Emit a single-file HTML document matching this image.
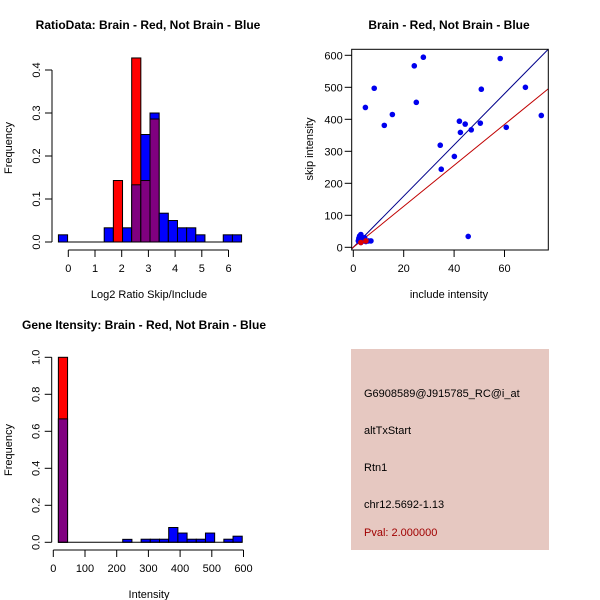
<!DOCTYPE html>
<html><head><meta charset="utf-8"><style>
html,body{margin:0;padding:0;background:#fff}
svg{display:block;font-family:"Liberation Sans",sans-serif}
text{fill:#000}
</style></head><body>
<svg id="c" width="600" height="600" xmlns="http://www.w3.org/2000/svg">
<rect width="600" height="600" fill="#fff"/>
<g id="p1"></g>
<g id="p2"></g>
<g id="p3"></g>
<g>
<rect x="351" y="349" width="198" height="201" fill="#e6c8c1"/>
<text x="364" y="397" font-size="11">G6908589@J915785_RC@i_at</text>
<text x="364" y="434" font-size="11">altTxStart</text>
<text x="364" y="471" font-size="11">Rtn1</text>
<text x="364" y="508" font-size="11">chr12.5692-1.13</text>
<text x="364" y="536" font-size="11" fill="#a00000" style="fill:#a00000">Pval: 2.000000</text>
</g>
</svg>
<script>
// Panel 1 data
const ratioBinStart = -0.37;
const ratioBinWidth = 0.343;
const ratioBlue = [0.0167,0,0,0,0,0.033,0,0.033,0.133,0.25,0.30,0.067,0.05,0.033,0.033,0.0167,0,0,0.0167,0.0167];
const ratioRed  = [0,0,0,0,0,0,0.143,0,0.428,0.143,0.286,0,0,0,0,0,0,0,0,0];
const ratioXTicks = [0,1,2,3,4,5,6];
const ratioYTicks = [0.0,0.1,0.2,0.3,0.4];
// Panel 2 data
const includeVals = [27.8,24.2,58.3,8.3,50.8,68.3,25,4.8,15.5,12.3,74.6,42.1,44.4,50.4,46.8,42.5,60.7,34.5,40.1,34.9,45.6,2,2.5,3,3.5,4,5,6,7,3,2.5,4.5,2.2];
const skipVals    = [594,567,590,497,494,500,453,437,415,381,412,394,385,388,367,359,375,319,284,244,34,20,30,40,25,20,18,20,20,15,35,30,28];
const redIncludeVals = [3,5];
const redSkipVals = [15,20];
const blueSlope = 8.0;
const redSlope = 6.4;
const scatXTicks = [0,20,40,60];
const scatYTicks = [0,100,200,300,400,500,600];
// Panel 3 data
const intBinStart = 16;
const intBinWidth = 29;
const intBlue = [0.667,0,0,0,0,0,0,0.016,0,0.0167,0.0167,0.0167,0.08,0.05,0.0167,0.0167,0.05,0,0.0167,0.033];
const intRed  = [1.0,0,0,0,0,0,0,0,0,0,0,0,0,0,0,0,0,0,0,0];
const intXTicks = [0,100,200,300,400,500,600];
const intYTicks = [0.0,0.2,0.4,0.6,0.8,1.0];

const NS="http://www.w3.org/2000/svg";
function mk(parent,tag,attrs){const e=document.createElementNS(NS,tag);for(const k in attrs)e.setAttribute(k,attrs[k]);parent.appendChild(e);return e;}
function txt(parent,x,y,s,size,anchor,rot,bold){const t=mk(parent,'text',{x:x,y:y,'font-size':size,'text-anchor':anchor||'middle'});if(rot)t.setAttribute('transform','rotate(-90 '+x+' '+y+')');if(bold)t.setAttribute('font-weight','bold');t.textContent=s;return t;}

function hist(g,xs,ys,start,width,blue,red,xt,yt,xAxisY,yAxisX,yFmt){
  for(let i=0;i<blue.length;i++){
    const x0=xs(start+i*width),x1=xs(start+(i+1)*width);
    const b=blue[i],r=red[i];
    const hi=Math.max(b,r),lo=Math.min(b,r);
    if(hi<=0)continue;
    const col=b>=r?'#0000ff':'#ff0000';
    const bar=mk(g,'rect',{x:x0,y:ys(hi),width:x1-x0,height:ys(0)-ys(hi),fill:col,stroke:'#000','stroke-width':1});
    
    
    if(lo>0){
      const p=mk(g,'rect',{x:x0,y:ys(lo),width:x1-x0,height:ys(0)-ys(lo),fill:'#800080',stroke:'#000','stroke-width':1});
      
      
    }
  }
  const x0=xs(start),x1=xs(start+blue.length*width);
  mk(g,'line',{x1:x0,x2:x1,y1:ys(0),y2:ys(0),stroke:'#000'});
  // x axis
  mk(g,'line',{x1:xs(xt[0]),x2:xs(xt[xt.length-1]),y1:xAxisY,y2:xAxisY,stroke:'#000'});
  xt.forEach(v=>{mk(g,'line',{x1:xs(v),x2:xs(v),y1:xAxisY,y2:xAxisY+7,stroke:'#000'});txt(g,xs(v),xAxisY+22,String(v),11);});
  mk(g,'line',{x1:yAxisX,x2:yAxisX,y1:ys(yt[0]),y2:ys(yt[yt.length-1]),stroke:'#000'});
  yt.forEach(v=>{mk(g,'line',{x1:yAxisX-7,x2:yAxisX,y1:ys(v),y2:ys(v),stroke:'#000'});txt(g,yAxisX-12,ys(v),v.toFixed(1),11,'middle',true);});
}

// Panel 1
(function(){
  const g=document.getElementById('p1');
  const xs=v=>68.3+v*26.7, ys=v=>242-v*430;
  hist(g,xs,ys,ratioBinStart,ratioBinWidth,ratioBlue,ratioRed,ratioXTicks,ratioYTicks,250,52);
  txt(g,148,29,'RatioData: Brain - Red, Not Brain - Blue',12,'middle',false,true);
  txt(g,149,298,'Log2 Ratio Skip/Include',11);
  txt(g,12,148,'Frequency',11,'middle',true);
})();

// Panel 2
(function(){
  const g=document.getElementById('p2');
  const xs=v=>353.3+v*2.52, ys=v=>247.3-v*0.32;
  const L=351.7,R=548.3,T=49.3,B=250;
  const cp=mk(g,'clipPath',{id:'clip2'});mk(cp,'rect',{x:L,y:T,width:R-L,height:B-T});
  const lg=mk(g,'g',{'clip-path':'url(#clip2)'});
  const xmin=-1,xmax=80;
  const bl=mk(lg,'line',{x1:xs(xmin),y1:ys(blueSlope*xmin),x2:xs(xmax),y2:ys(blueSlope*xmax),stroke:'#00008b','stroke-width':1});
  
  
  const rl=mk(lg,'line',{x1:xs(xmin),y1:ys(redSlope*xmin),x2:xs(xmax),y2:ys(redSlope*xmax),stroke:'#c00000','stroke-width':1});
  
  
  includeVals.forEach((v,i)=>{const c=mk(lg,'circle',{cx:xs(v),cy:ys(skipVals[i]),r:2.8,fill:'#0000ee'});
    
    });
  redIncludeVals.forEach((v,i)=>{const c=mk(lg,'circle',{cx:xs(v),cy:ys(redSkipVals[i]),r:2.8,fill:'#dd0000'});
    
    });
  mk(g,'rect',{x:L,y:T,width:R-L,height:B-T,fill:'none',stroke:'#000'});
  scatXTicks.forEach(v=>{mk(g,'line',{x1:xs(v),x2:xs(v),y1:B,y2:B+7,stroke:'#000'});txt(g,xs(v),B+22,String(v),11);});
  scatYTicks.forEach(v=>{mk(g,'line',{x1:L-7,x2:L,y1:ys(v),y2:ys(v),stroke:'#000'});txt(g,L-9,ys(v)+4,String(v),11,'end');});
  txt(g,449,29,'Brain - Red, Not Brain - Blue',12,'middle',false,true);
  txt(g,449,298,'include intensity',11);
  txt(g,313,149,'skip intensity',11,'middle',true);
})();

// Panel 3
(function(){
  const g=document.getElementById('p3');
  const xs=v=>53.3+v*0.317, ys=v=>542.3-v*185;
  hist(g,xs,ys,intBinStart,intBinWidth,intBlue,intRed,intXTicks,intYTicks,550,51.7);
  txt(g,144,329,'Gene Itensity: Brain - Red, Not Brain - Blue',12,'middle',false,true);
  txt(g,149,598,'Intensity',11);
  txt(g,12,450,'Frequency',11,'middle',true);
})();
</script>
</body></html>
